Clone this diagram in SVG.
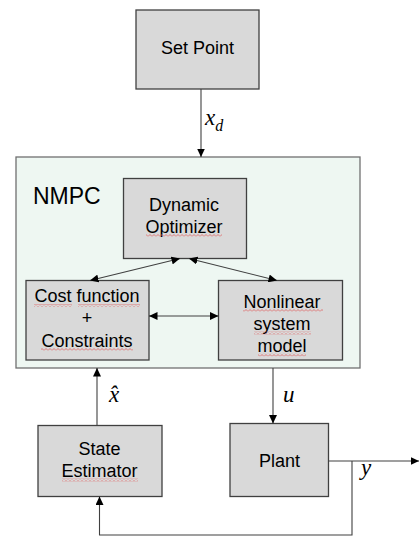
<svg xmlns="http://www.w3.org/2000/svg" width="420" height="537" viewBox="0 0 420 537">
<defs>
<marker id="ah" markerWidth="9" markerHeight="8" refX="8.5" refY="4" orient="auto-start-reverse" markerUnits="userSpaceOnUse">
<path d="M0,0 L8.5,4 L0,8 z" fill="#000"/>
</marker>
<pattern id="wavy" width="4" height="3" patternUnits="userSpaceOnUse">
<path d="M0,2.5 L2,0.5 L4,2.5" stroke="#e06060" fill="none" stroke-width="0.8"/>
</pattern>
<style>
.box{fill:#d9d9d9;stroke:#404040;stroke-width:1.3}
.outer{fill:#eef7f2;stroke:#707070;stroke-width:1.3}
.lbl{font-family:"Liberation Sans",Arial,sans-serif;font-size:18px;fill:#000;text-anchor:middle}
.math{font-family:"Liberation Serif","DejaVu Serif",serif;font-style:italic;fill:#000}
.c{fill:none;stroke:#404040;stroke-width:1.1}
.sq{fill:url(#wavy)}
</style>
</defs>
<rect width="420" height="537" fill="#fff"/>

<g id="set-point">
<rect class="box" x="136" y="10" width="123" height="79"/>
<text class="lbl" x="197.5" y="54">Set Point</text>
</g>

<g id="nmpc">
<rect class="outer" x="16" y="157" width="344" height="211"/>
<text x="33" y="204" font-family="Liberation Sans,Arial,sans-serif" font-size="23" fill="#000">NMPC</text>
</g>

<g id="dynamic-optimizer">
<rect class="box" x="123.5" y="178.5" width="123" height="80"/>
<text class="lbl" x="184" y="211">Dynamic</text>
<text class="lbl" x="184" y="232.5">Optimizer</text>
<rect class="sq" x="146" y="234" width="76" height="3"/>
</g>

<g id="cost-function">
<rect class="box" x="26" y="280.5" width="123" height="79.5"/>
<text class="lbl" x="87" y="302">Cost function</text>
<text class="lbl" x="87" y="324">+</text>
<text class="lbl" x="87" y="346.5">Constraints</text>
<rect class="sq" x="34" y="304" width="38" height="3"/>
<rect class="sq" x="78" y="304" width="62" height="3"/>
<rect class="sq" x="41" y="348" width="92" height="3"/>
</g>

<g id="nonlinear-model">
<rect class="box" x="218.5" y="280.5" width="124" height="79.5"/>
<text class="lbl" x="282" y="307.5">Nonlinear</text>
<text class="lbl" x="282" y="329.5">system</text>
<text class="lbl" x="282" y="352">model</text>
<rect class="sq" x="243" y="309" width="80" height="3"/>
<rect class="sq" x="254" y="331.5" width="57" height="3"/>
<rect class="sq" x="258" y="353.5" width="48" height="3"/>
</g>

<g id="state-estimator">
<rect class="box" x="38" y="425.5" width="124" height="71"/>
<text class="lbl" x="99.5" y="455">State</text>
<text class="lbl" x="99.5" y="477">Estimator</text>
<rect class="sq" x="62" y="478.5" width="76" height="3"/>
</g>

<g id="plant">
<rect class="box" x="230" y="423.5" width="98.5" height="73"/>
<text class="lbl" x="279.5" y="466.5">Plant</text>
</g>

<g id="connectors">
<line class="c" x1="201" y1="89" x2="201" y2="157" marker-end="url(#ah)"/>
<line class="c" x1="180" y1="258.5" x2="90" y2="280.5" marker-start="url(#ah)" marker-end="url(#ah)"/>
<line class="c" x1="189" y1="258.5" x2="277" y2="280.5" marker-start="url(#ah)" marker-end="url(#ah)"/>
<line class="c" x1="149" y1="316" x2="218.5" y2="316" marker-start="url(#ah)" marker-end="url(#ah)"/>
<line class="c" x1="97" y1="425.5" x2="97" y2="368" marker-end="url(#ah)"/>
<line class="c" x1="273" y1="368" x2="273" y2="423.5" marker-end="url(#ah)"/>
<line class="c" x1="328.5" y1="461" x2="419" y2="461" marker-end="url(#ah)"/>
<polyline class="c" points="352,461 352,535 99.5,535 99.5,496.5" marker-end="url(#ah)"/>
<text class="math" x="205" y="124.5" font-size="23">x<tspan font-size="16" dy="6">d</tspan></text>
<text class="math" x="109" y="401.5" font-size="23">x̂</text>
<text class="math" x="283" y="401.5" font-size="23">u</text>
<text class="math" x="361" y="475" font-size="23">y</text>
</g>
</svg>
